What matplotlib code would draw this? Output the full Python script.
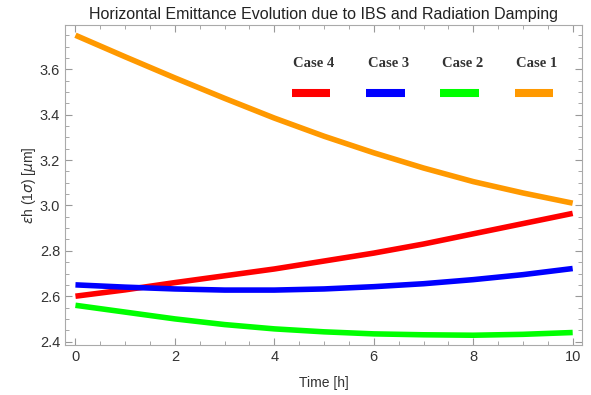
import numpy as np
import matplotlib
matplotlib.use("Agg")
import matplotlib.pyplot as plt
from matplotlib.ticker import MultipleLocator

# time in hours and emittance [um]
t = [0, 1, 2, 3, 4, 5, 6, 7, 8, 9, 10]
case1 = [3.75, 3.655, 3.562, 3.472, 3.385, 3.305, 3.232, 3.165, 3.105, 3.055, 3.01]
case2 = [2.56, 2.53, 2.50, 2.475, 2.456, 2.443, 2.434, 2.43, 2.428, 2.432, 2.44]
case3 = [2.65, 2.64, 2.632, 2.627, 2.627, 2.632, 2.642, 2.655, 2.673, 2.695, 2.722]
case4 = [2.60, 2.628, 2.66, 2.69, 2.72, 2.755, 2.79, 2.83, 2.875, 2.92, 2.965]

labels = ["Case 4", "Case 3", "Case 2", "Case 1"]
colors = ["#ff0000", "#0000ff", "#00ff00", "#ff9900"]
series = [case4, case3, case2, case1]

plt.rcParams["font.family"] = ["Liberation Sans", "DejaVu Sans"]

fig = plt.figure(figsize=(5.91, 3.95), dpi=100)
ax = fig.add_axes([0.110, 0.1266, 0.875, 0.810])

for y, c in zip(series, colors):
    ax.plot(t, y, color=c, lw=4.0, solid_capstyle="butt")

ax.set_xlim(-0.21, 10.19)
ax.set_ylim(2.385, 3.795)
ax.xaxis.set_major_locator(MultipleLocator(2))
ax.xaxis.set_minor_locator(MultipleLocator(0.5))
ax.yaxis.set_major_locator(MultipleLocator(0.2))
ax.yaxis.set_minor_locator(MultipleLocator(0.05))
ax.yaxis.set_major_formatter(matplotlib.ticker.FormatStrFormatter("%.1f"))
ax.tick_params(which="both", direction="in", top=True, right=True,
               color="#999999", labelcolor="#333333", labelsize=10.5)
ax.tick_params(which="major", length=5, width=0.8)
ax.tick_params(which="minor", length=3, width=0.6)
for s in ax.spines.values():
    s.set_color("#aaaaaa")

ax.set_title("Horizontal Emittance Evolution due to IBS and Radiation Damping",
             fontsize=11.5, color="#222222", pad=4)
ax.set_xlabel("Time [h]", fontsize=10, color="#333333", labelpad=9)
ax.set_ylabel(r"$\epsilon$h (1$\sigma$) [$\mu$m]", fontsize=10, color="#333333",
              labelpad=1)

# legend drawn as a row: label above, colour bar below
xs = [0.476, 0.620, 0.763, 0.907]
for x, lab, c in zip(xs, labels, colors):
    ax.text(x + 0.005, 0.881, lab, transform=ax.transAxes, ha="center", va="center",
            fontsize=10.5, family="Liberation Serif", weight="bold", color="#333333")
    ax.plot([x - 0.037, x + 0.037], [0.787, 0.787], transform=ax.transAxes,
            color=c, lw=5.8, solid_capstyle="butt")

fig.savefig("out.png", dpi=100)
